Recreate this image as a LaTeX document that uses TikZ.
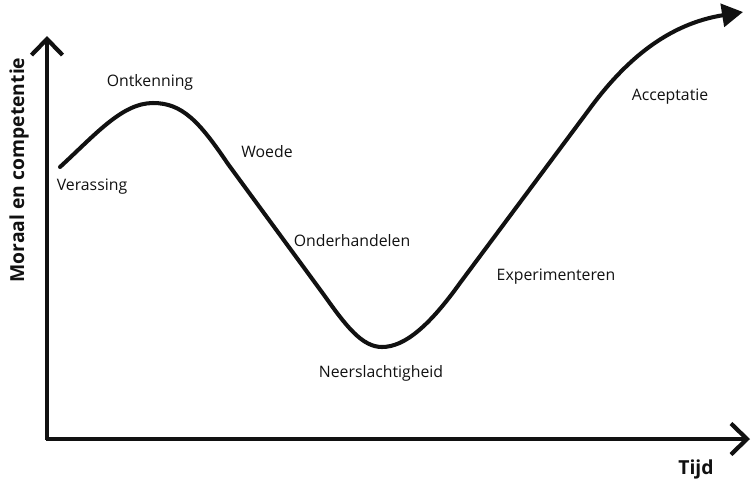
\documentclass[tikz,border=0pt]{standalone}
\usepackage{fontspec}
\setmainfont{Open Sans}
\usepackage{tikz}
\usetikzlibrary{arrows.meta,positioning,calc}
\definecolor{inkt}{HTML}{111111}
\tikzset{
  % assen
  as/.style={draw=inkt,line width=2.8pt,-{Straight Barb[length=3.2mm,width=6.2mm,line width=2.4pt]}},
  aslbl/.style={font=\fontsize{11}{13}\selectfont\bfseries,text=inkt,inner sep=0pt},
  % curve
  fase/.style={draw=inkt,line width=2.3pt,line cap=round,line join=round,-{Triangle[length=4.2mm,width=4.6mm]}},
  fl/.style={font=\fontsize{9}{11}\selectfont,text=inkt,inner sep=0pt},
}
\begin{document}
\begin{tikzpicture}[x=0.02cm,y=-0.02cm]
\useasboundingbox (0,0) rectangle (751,481);
  \coordinate (o) at (47,439);
  \coordinate (ytop) at (47,36);
  \coordinate (xend) at (750,439);
  \coordinate (start) at (60,167);
  \coordinate (top) at (153,103);
  \coordinate (dal) at (382,347);
  \coordinate (eind) at (743,12);
  \draw[as] ($(o)+(0,1.2)$) -- (ytop);
  \draw[as] ($(o)+(-1.2,0)$) -- (xend);
  \node[aslbl,rotate=90] (ylbl) at (19,170) {Moraal en competentie};
  \node[aslbl] (xlbl) at (696,469) {Tijd};
  \draw[fase] (start) .. controls (95,135) and (122,103) .. (top)
    .. controls (182,103) and (199,121) .. (228,164)
    -- (324,295)
    .. controls (346,326) and (362,347) .. (dal)
    .. controls (405,347) and (430,325) .. (460,283)
    -- (588,111)
    .. controls (625,60) and (668,24) .. (eind);
  \node[fl] (verassing) at (92,187) {Verassing};
  \node[fl] (ontkenning) at (150,82) {Ontkenning};
  \node[fl] (woede) at (267,152) {Woede};
  \node[fl] (onderh) at (352,241) {Onderhandelen};
  \node[fl] (neersl) at (381,373) {Neerslachtigheid};
  \node[fl] (experim) at (556,277) {Experimenteren};
  \node[fl] (accept) at (670,97) {Acceptatie};
\end{tikzpicture}
\end{document}
